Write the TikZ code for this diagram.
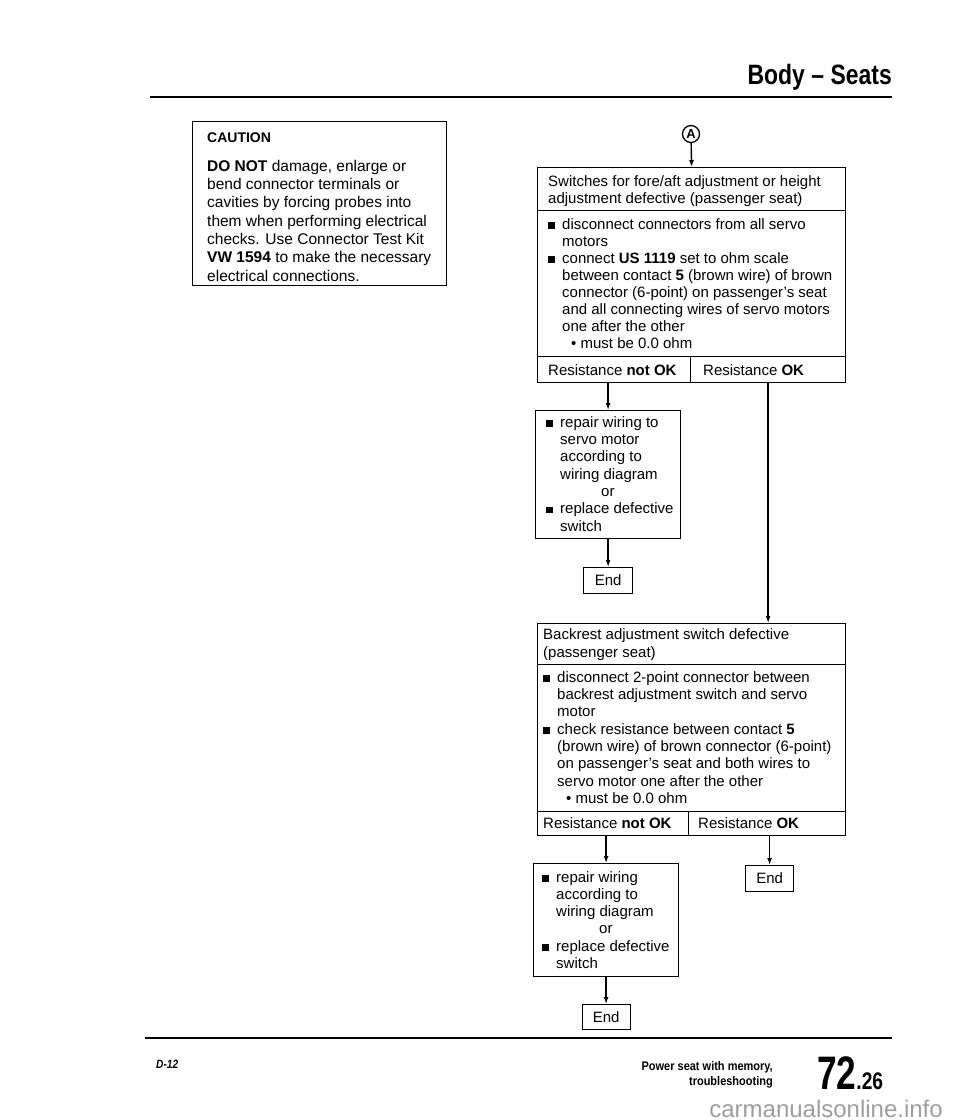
\documentclass[tikz,border=0pt]{standalone}
\usepackage{fontspec}
\setmainfont{Liberation Sans}
\usetikzlibrary{arrows.meta}
\newcommand\sqb{\makebox[14pt][l]{\rule[0.5pt]{6.5pt}{6.5pt}}}
\newcommand\ind{\hspace*{14pt}}
\newcommand\fs{\rule{0pt}{11pt}}
\begin{document}
\begin{tikzpicture}[x=1pt,y=-1pt,
  cell/.style={draw, line width=1.2pt, inner sep=0pt, anchor=north west},
  txt/.style={inner sep=0pt, anchor=north west, align=left, font=\fontsize{15}{17.2}\selectfont},
  one/.style={inner sep=0pt, anchor=base west, font=\fontsize{15}{17.2}\selectfont},
  endbox/.style={draw, line width=1.2pt, inner sep=0pt, anchor=north west, minimum width=49pt, minimum height=26pt, font=\fontsize{15}{17.2}\selectfont},
  arr/.style={line width=1.4pt, -{Latex[length=7pt,width=5pt]}},
  rule/.style={line width=2.5pt},
]
\useasboundingbox (0,0) rectangle (960,1120);
\fill[white] (0,0) rectangle (960,1120);

% header
\node[inner sep=0pt, anchor=base east, font=\bfseries\fontsize{28}{28}\selectfont] (hdr) at (892,84) {\scalebox{0.82}[1]{Body \textendash\ Seats}};
\draw[rule] (150,97) -- (892,97);

% caution
\node[cell, minimum width=254pt, minimum height=164pt] (caution) at (192,121) {};
\node[inner sep=0pt, anchor=base west, font=\bfseries\fontsize{14}{14}\selectfont] (cauthead) at (207,142) {CAUTION};
\node[txt, font=\fontsize{15.5}{18.3}\selectfont] (cauttxt) at (207,159) {\rule{0pt}{12pt}\textbf{DO NOT} damage, enlarge or\\
bend connector terminals or\\
cavities by forcing probes into\\
them when performing electrical\\
checks. Use Connector Test Kit\\
\textbf{VW 1594} to make the necessary\\
electrical connections.};

% first block
\node[draw, circle, line width=1.3pt, minimum size=17pt, inner sep=0pt, font=\bfseries\fontsize{13}{13}\selectfont] (A) at (691,134) {A};
\node[cell, minimum width=308pt, minimum height=43pt] (t1) at (537,167) {};
\node[txt] (t1txt) at (548,175) {\fs Switches for fore/aft adjustment or height\\adjustment defective (passenger seat)};
\node[cell, minimum width=308pt, minimum height=146pt] (b1) at (537,210) {};
\node[txt, font=\fontsize{15}{17}\selectfont] (b1txt) at (548,218) {\fs\sqb disconnect connectors from all servo\\
\ind motors\\
\sqb connect \textbf{US 1119} set to ohm scale\\
\ind between contact \textbf{5} (brown wire) of brown\\
\ind connector (6-point) on passenger's seat\\
\ind and all connecting wires of servo motors\\
\ind one after the other\\
\ind\hspace*{9pt}\textbullet\ must be 0.0 ohm};
\node[cell, minimum width=153pt, minimum height=26pt] (no1) at (537,356) {};
\node[cell, minimum width=155pt, minimum height=26pt] (ok1) at (690,356) {};
\node[one] (no1txt) at (548,375) {Resistance \textbf{not OK}};
\node[one] (ok1txt) at (703,375) {Resistance \textbf{OK}};

\node[cell, minimum width=145pt, minimum height=128pt] (rep1) at (535,410) {};
\node[txt, font=\fontsize{15}{17.3}\selectfont] (rep1txt) at (546,416) {\fs\sqb repair wiring to\\
\ind servo motor\\
\ind according to\\
\ind wiring diagram\\
\hspace*{55pt}or\\
\sqb replace defective\\
\ind switch};
\node[endbox] (end1) at (583,567) {End};

% second block
\node[cell, minimum width=308pt, minimum height=41pt] (t2) at (537,623) {};
\node[txt, font=\fontsize{15}{17.8}\selectfont] (t2txt) at (543,628) {\fs Backrest adjustment switch defective\\(passenger seat)};
\node[cell, minimum width=308pt, minimum height=147pt] (b2) at (537,664) {};
\node[txt, font=\fontsize{15}{17.3}\selectfont] (b2txt) at (543,671) {\fs\sqb disconnect 2-point connector between\\
\ind backrest adjustment switch and servo\\
\ind motor\\
\sqb check resistance between contact \textbf{5}\\
\ind (brown wire) of brown connector (6-point)\\
\ind on passenger's seat and both wires to\\
\ind servo motor one after the other\\
\ind\hspace*{9pt}\textbullet\ must be 0.0 ohm};
\node[cell, minimum width=151pt, minimum height=24pt] (no2) at (537,811) {};
\node[cell, minimum width=157pt, minimum height=24pt] (ok2) at (688,811) {};
\node[one] (no2txt) at (543,828) {Resistance \textbf{not OK}};
\node[one] (ok2txt) at (698,828) {Resistance \textbf{OK}};

\node[cell, minimum width=145pt, minimum height=113pt] (rep2) at (533,863) {};
\node[txt, font=\fontsize{15}{17.2}\selectfont] (rep2txt) at (542,871) {\fs\sqb repair wiring\\
\ind according to\\
\ind wiring diagram\\
\hspace*{57pt}or\\
\sqb replace defective\\
\ind switch};
\node[endbox, minimum width=48pt] (end2) at (745,865) {End};
\node[endbox, minimum width=48pt, minimum height=25pt] (end3) at (581.5,1004) {End};

% connectors
\draw[arr] (A) -- (t1.north);
\draw[arr] (rep1.north |- no1.south) -- (rep1.north);
\draw[arr] (rep1.south) -- (rep1.south |- end1.north);
\draw[arr] (ok1.south) -- (ok1.south |- t2.north);
\draw[arr] (rep2.north |- no2.south) -- (rep2.north);
\draw[arr] (end2.north |- ok2.south) -- (end2.north);
\draw[arr] (rep2.south) -- (rep2.south |- end3.north);

% footer
\draw[rule] (145,1038) -- (892,1038);
\node[inner sep=0pt, anchor=base west, font=\bfseries\itshape\fontsize{12}{12}\selectfont] (pg) at (156,1068) {\scalebox{0.85}[1]{D-12}};
\node[inner sep=0pt, anchor=base east, font=\bfseries\fontsize{12.5}{12.5}\selectfont] (ft1) at (773,1070) {\scalebox{0.88}[1]{Power seat with memory,}};
\node[inner sep=0pt, anchor=base east, font=\bfseries\fontsize{12.5}{12.5}\selectfont] (ft2) at (773,1085) {\scalebox{0.88}[1]{troubleshooting}};
\node[inner sep=0pt, anchor=base west, font=\bfseries] (num) at (817,1089) {\scalebox{0.75}[1]{\fontsize{47}{47}\selectfont 72}\scalebox{0.8}[1]{\fontsize{24}{24}\selectfont .26}};
\node[inner sep=0pt, anchor=base east, text=black!38, font=\fontsize{24}{24}\selectfont] (wm) at (943,1117) {carmanualsonline.info};
\end{tikzpicture}
\end{document}
